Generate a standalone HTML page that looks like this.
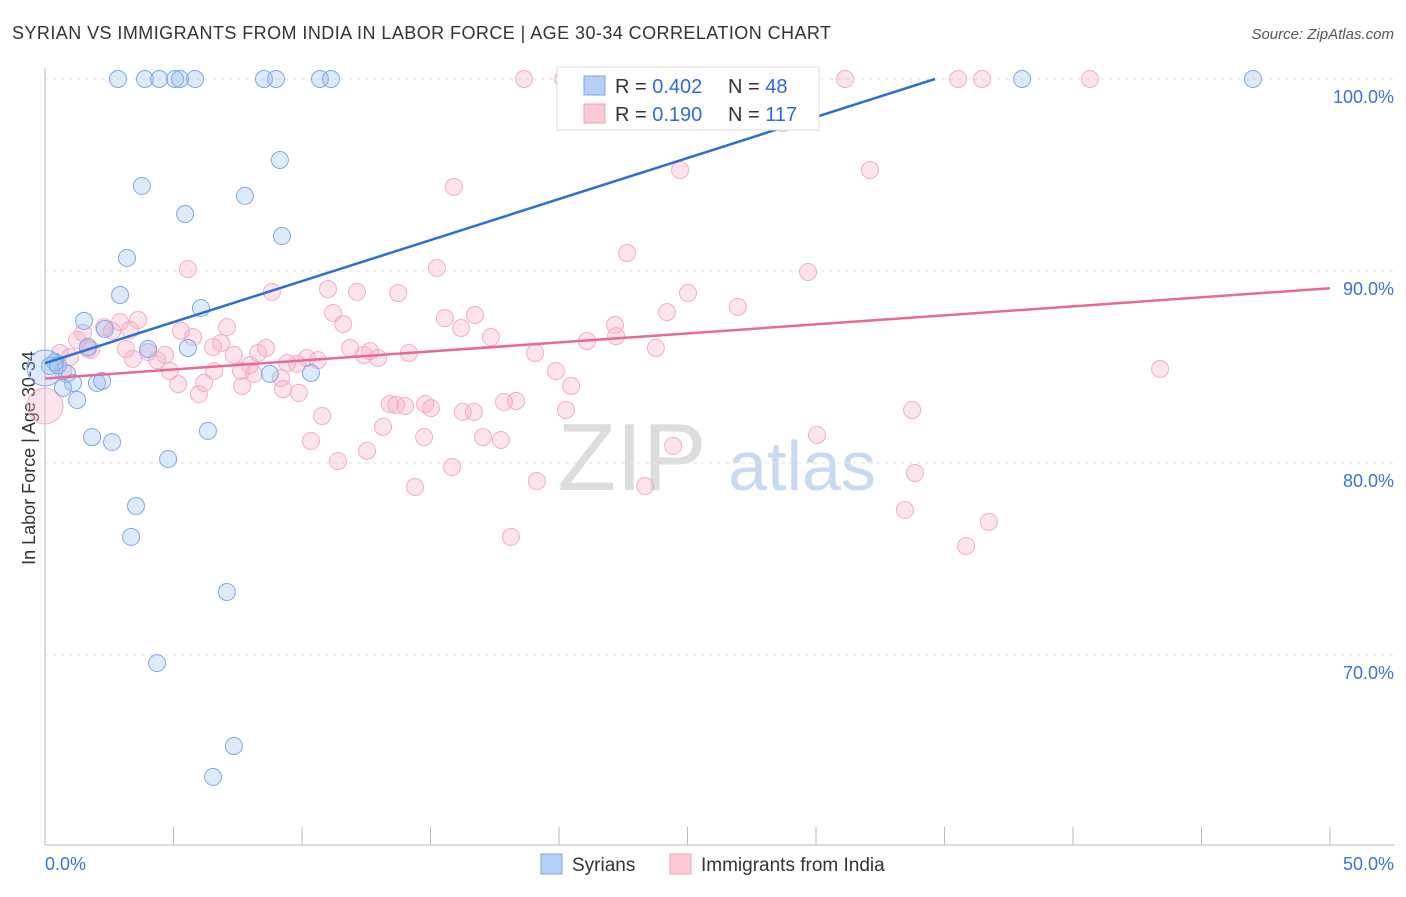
<!DOCTYPE html>
<html><head><meta charset="utf-8"><style>
body{margin:0;background:#fff;font-family:"Liberation Sans",sans-serif}
svg text{font-family:"Liberation Sans",sans-serif}
</style></head><body>
<svg id="c" width="1406" height="892">
<text x="12" y="39" font-size="18" fill="#333" textLength="819" lengthAdjust="spacing">SYRIAN VS IMMIGRANTS FROM INDIA IN LABOR FORCE | AGE 30-34 CORRELATION CHART</text>
<text x="1394" y="39" font-size="15" fill="#555" font-style="italic" text-anchor="end">Source: ZipAtlas.com</text>
<text x="35" y="458" font-size="18" fill="#333" text-anchor="middle" transform="rotate(-90 35 458)">In Labor Force | Age 30-34</text>
<text x="632" y="490" font-size="96" fill="#ddd" font-family="Liberation Serif" text-anchor="middle">ZIP</text>
<text x="802" y="490" font-size="70" fill="#c8daf2" text-anchor="middle">atlas</text>
<g id="grid"></g><g id="ax"></g><g id="pts"></g><g id="tr"></g>
<g>
<rect x="557" y="67" width="262" height="63" fill="#fff" stroke="#ddd"/>
<rect x="584" y="76" width="21" height="19" fill="#b6d0f5" stroke="#7aa6e3"/>
<rect x="584" y="104" width="21" height="19" fill="#fbc8d6" stroke="#f0a0b8"/>
<text x="615" y="93" font-size="20" fill="#333">R = <tspan fill="#2f6bd8">0.402</tspan></text>
<text x="728" y="93" font-size="20" fill="#333">N = <tspan fill="#2f6bd8"> 48</tspan></text>
<text x="615" y="121" font-size="20" fill="#333">R = <tspan fill="#2f6bd8"> 0.190</tspan></text>
<text x="728" y="121" font-size="20" fill="#333">N = <tspan fill="#2f6bd8">117</tspan></text>
</g>
<g>
<rect x="541" y="854" width="21" height="20" fill="#b6d0f5" stroke="#7aa6e3"/>
<text x="572" y="871" font-size="19" fill="#333">Syrians</text>
<rect x="670" y="854" width="21" height="20" fill="#fbc8d6" stroke="#f0a0b8"/>
<text x="701" y="871" font-size="19" fill="#333">Immigrants from India</text>
</g>
</svg>
<script>
const yTicks=[100,90,80,70];
const yTickLabels=["100.0%","90.0%","80.0%","70.0%"];
const xTickLabels=["0.0%","50.0%"];
const blueX=[2.84,3.89,4.44,5.06,5.25,5.84,8.52,8.99,10.70,11.13,27.90,38.02,47.00,9.14,3.77,7.78,5.45,9.22,3.19,2.92,6.07,1.52,2.33,1.67,4.01,5.56,0.39,0.19,0.86,1.09,0.70,2.02,2.22,1.25,8.75,10.35,1.83,2.61,6.34,4.79,3.54,3.35,7.08,4.36,7.35,6.54,0.0,0.5];
const blueY=[100,100,100,100,100,100,100,100,100,100,100,100,100,95.78,94.43,93.91,92.97,91.82,90.68,88.75,88.07,87.40,86.98,86.04,85.94,85.99,85.26,85.05,84.64,84.17,83.91,84.17,84.27,83.28,84.64,84.69,81.35,81.09,81.67,80.21,77.76,76.15,73.28,69.58,65.26,63.65,84.95,85.1];
const pinkX=[18.64,20.16,31.13,35.53,36.46,40.66,24.82,28.72,15.91,24.71,32.10,22.65,29.69,5.56,15.25,8.83,11.01,12.14,13.74,25.02,26.96,24.20,11.21,15.56,16.73,3.62,2.92,2.30,7.08,5.29,11.60,16.19,17.35,22.18,22.22,5.76,1.48,2.61,3.31,1.25,1.67,1.79,3.15,6.54,6.85,8.60,8.29,7.35,4.67,4.01,4.36,3.42,11.87,12.65,14.16,19.07,21.09,23.77,12.96,12.41,10.19,10.62,9.42,9.81,7.98,7.63,6.58,4.86,0.97,0.58,0.70,19.88,9.18,8.13,6.19,5.18,7.67,9.26,9.88,5.99,20.47,13.42,14.01,13.66,14.79,15.02,17.86,18.33,10.78,20.27,16.26,16.69,33.74,13.15,14.75,17.04,17.74,10.35,12.53,24.44,30.04,11.40,15.84,33.85,19.14,14.40,23.35,33.46,36.73,18.13,35.84,43.39,0];
const pinkY=[100,100,100,100,100,100,99.32,97.71,94.38,95.26,95.26,90.94,89.95,90.10,90.16,88.91,89.06,88.91,88.85,88.85,88.13,87.86,87.81,87.55,87.71,87.45,87.34,87.08,87.08,86.88,87.24,87.03,86.56,87.19,86.61,86.56,86.77,86.88,86.93,86.41,85.94,85.89,85.94,86.04,86.25,85.99,85.73,85.63,85.63,85.78,85.36,85.42,85.99,85.83,85.73,85.73,86.35,85.99,85.47,85.63,85.47,85.36,85.21,85.16,85.10,84.79,84.79,84.79,85.52,85.73,84.79,84.79,84.43,84.64,84.17,84.11,84.01,83.85,83.65,83.59,84.01,83.07,82.97,83.02,83.07,82.86,83.18,83.23,82.45,82.76,82.66,82.66,82.76,81.88,81.35,81.35,81.20,81.15,80.63,80.89,81.46,80.10,79.79,79.48,79.06,78.75,78.80,77.55,76.93,76.15,75.68,84.90,82.97];
const blueTrendX=[0,34.63];const blueTrendY=[85.2,100];
const pinkTrendX=[0,50];const pinkTrendY=[84.4,89.1];
const X=v=>45+v*25.7, Y=v=>79+(100-v)*19.2;
const NS="http://www.w3.org/2000/svg";
function mk(p,t,a){const e=document.createElementNS(NS,t);for(const k in a)e.setAttribute(k,a[k]);p.appendChild(e);return e;}
const grid=document.getElementById('grid'),ax=document.getElementById('ax'),pts=document.getElementById('pts'),tr=document.getElementById('tr');
yTicks.forEach((t,i)=>{
 const l=mk(grid,'line',{x1:45,x2:1394,y1:Y(t),y2:Y(t),stroke:'#e2e2e2','stroke-dasharray':'4,4'});
 
 
 const tx=mk(ax,'text',{x:1394,y:Y(t)+24,'font-size':18,fill:'#3a72d8','text-anchor':'end'});tx.textContent=yTickLabels[i];
 
 
});
mk(ax,'line',{x1:45,x2:45,y1:68,y2:845,stroke:'#bbb'});
mk(ax,'line',{x1:45,x2:1394,y1:845,y2:845,stroke:'#bbb'});
for(let i=0;i<=10;i++){const t=mk(ax,'line',{x1:X(i*5),x2:X(i*5),y1:827,y2:845,stroke:'#bbb'});
 
 }
const xl0=mk(ax,'text',{x:45,y:870,'font-size':18,fill:'#3a72d8'});xl0.textContent=xTickLabels[0];


const xl1=mk(ax,'text',{x:1394,y:870,'font-size':18,fill:'#3a72d8','text-anchor':'end'});xl1.textContent=xTickLabels[1];


pinkX.forEach((x,i)=>{const c=mk(pts,'circle',{cx:X(x),cy:Y(pinkY[i]),r:(x===0?18:8.5),fill:'rgba(246,170,196,0.33)',stroke:'#f2aec3','stroke-width':1});
 
 });
blueX.forEach((x,i)=>{const c=mk(pts,'circle',{cx:X(x),cy:Y(blueY[i]),r:(x===0?18:8.5),fill:'rgba(150,190,240,0.33)',stroke:'#7fa9e3','stroke-width':1});
 
 });
const bl=mk(tr,'line',{x1:X(blueTrendX[0]),y1:Y(blueTrendY[0]),x2:X(blueTrendX[1]),y2:Y(blueTrendY[1]),stroke:'#2a6fd6','stroke-width':2.5});


const pl=mk(tr,'line',{x1:X(pinkTrendX[0]),y1:Y(pinkTrendY[0]),x2:X(pinkTrendX[1]),y2:Y(pinkTrendY[1]),stroke:'#e8689a','stroke-width':2.5});


</script>
</body></html>
